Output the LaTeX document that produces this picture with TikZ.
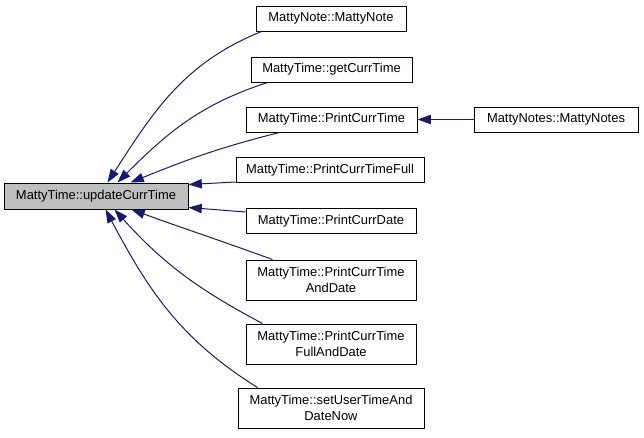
\documentclass[tikz,border=0pt]{standalone}
\usepackage{fontspec}
\setmainfont{Liberation Sans}
\usetikzlibrary{arrows.meta,calc,positioning}
\definecolor{edgeblue}{HTML}{191970}
\definecolor{rootgray}{HTML}{BFBFBF}

\tikzset{
  fn/.style={draw=black,line width=0.75pt,fill=white,inner sep=0pt,
    align=center,font=\fontsize{9.7}{12}\selectfont,minimum height=18.75pt},
  fntwo/.style={fn,minimum height=30pt},
  rootfn/.style={fn,fill=rootgray,minimum height=19.5pt},
  callarrow/.style={edgeblue,line width=0.75pt,
    -{Triangle[length=10pt,width=7pt]}}
}

\begin{document}
\begin{tikzpicture}[x=0.75pt,y=-0.75pt]
  \useasboundingbox (0,0) rectangle (644,437);
  % Function boxes
  \node[rootfn,minimum width=138pt] (root) at (96,196) {MattyTime::updateCurrTime};
  \node[fn,minimum width=112.5pt] (note) at (331,18.5) {MattyNote::MattyNote};
  \node[fn,minimum width=120.75pt] (getcurr) at (331.5,69.5) {MattyTime::getCurrTime};
  \node[fn,minimum width=128.25pt] (printtime) at (331.5,119.5) {MattyTime::PrintCurrTime};
  \node[fn,minimum width=141pt] (printfull) at (330,170) {MattyTime::PrintCurrTimeFull};
  \node[fn,minimum width=127.5pt] (printdate) at (331,221) {MattyTime::PrintCurrDate};
  \node[fntwo,minimum width=127.5pt] (anddate) at (331,280) {MattyTime::PrintCurrTime\\AndDate};
  \node[fntwo,minimum width=127.5pt] (fullanddate) at (331,344) {MattyTime::PrintCurrTime\\FullAndDate};
  \node[fntwo,minimum width=139.5pt] (setuser) at (331,408) {MattyTime::setUserTimeAnd\\DateNow};
  \node[fn,minimum width=123pt] (notes) at (556,119.5) {MattyNotes::MattyNotes};
  % Callers
  \draw[callarrow] ($(note.south west)+(6,0)$) to[out=202,in=57] ($(root.north west)+(104,0)$);
  \draw[callarrow] ($(getcurr.south west)+(17,0)$) to[out=198,in=45] ($(root.north west)+(114,0)$);
  \draw[callarrow] ($(printtime.south west)+(34,0)$) to[out=194,in=22] ($(root.north west)+(127,0)$);
  \draw[callarrow] ($(printfull.south west)+(0,-1)$) -- ($(root.north east)+(0,2)$);
  \draw[callarrow] ($(printdate.north west)+(0,4)$) -- ($(root.south east)+(0,-2)$);
  \draw[callarrow] ($(anddate.north west)+(27,0)$) to[out=160,in=-20] ($(root.south west)+(128,0)$);
  \draw[callarrow] ($(fullanddate.north west)+(17,0)$) to[out=152,in=-48] ($(root.south west)+(111,0)$);
  \draw[callarrow] ($(setuser.north west)+(20,0)$) to[out=148,in=-62] ($(root.south west)+(102,0)$);
  \draw[callarrow] (notes.west) -- (printtime.east);
\end{tikzpicture}
\end{document}
